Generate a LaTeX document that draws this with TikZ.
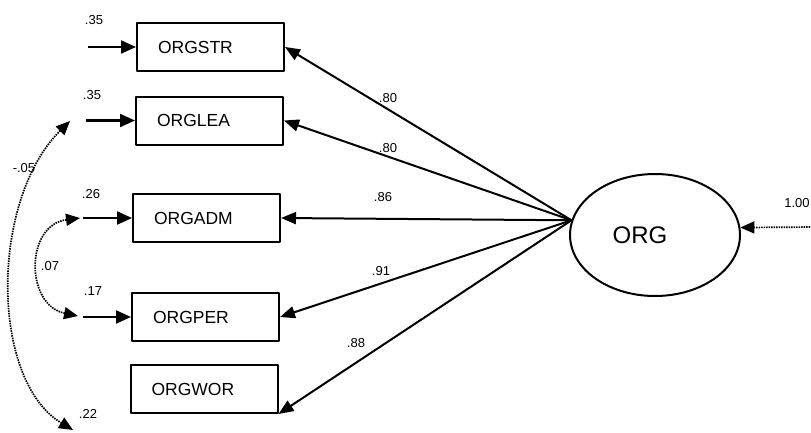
\documentclass[tikz,border=0pt]{standalone}
\usepackage{fontspec}
\setmainfont{Liberation Sans}
\usetikzlibrary{arrows.meta,shapes.geometric}

\tikzset{
  indbox/.style={draw,line width=2pt,minimum height=48pt,text width=105pt,align=left,
    inner xsep=21pt,inner ysep=0pt,font=\fontsize{17.5}{20}\selectfont},
  latent/.style={draw,ellipse,line width=2pt,minimum width=170pt,minimum height=122pt,
    inner sep=0pt,font=\fontsize{24}{28}\selectfont},
  loading/.style={-{Triangle[length=15pt,width=12pt]},line width=2pt},
  errarrow/.style={-{Triangle[length=15pt,width=13pt]},line width=2.2pt},
  covarc/.style={{Triangle[length=14pt,width=12pt]}-{Triangle[length=14pt,width=12pt]},
    line width=1.7pt,dash pattern=on 1.5pt off 1pt},
  distarrow/.style={-{Triangle[length=14pt,width=12pt]},line width=1.7pt,dash pattern=on 1.5pt off 1pt},
  coef/.style={inner sep=0pt,font=\fontsize{13}{15}\selectfont}
}

\begin{document}
\begin{tikzpicture}[x=1pt,y=-1pt,line join=round]
  \useasboundingbox (0,0) rectangle (811,432);
  \clip (0,0) rectangle (811,432);
  \node[indbox] (orgstr) at (210.5,47) {ORGSTR};
  \node[indbox] (orglea) at (209.5,120.5) {ORGLEA};
  \node[indbox] (orgadm) at (206.5,218) {ORGADM};
  \node[indbox] (orgper) at (205.5,317) {ORGPER};
  \node[indbox] (orgwor) at (204,389) {ORGWOR};
  \node[latent] (org) at (655,235) {ORG\hspace*{30pt}};
  \coordinate (e1) at (88,47);
  \coordinate (e2) at (86,120.5);
  \coordinate (e3) at (83,218);
  \coordinate (e4) at (83,317);
  \coordinate (c1) at (70,121);
  \coordinate (c2) at (73,430);
  \coordinate (c3) at (80,218);
  \coordinate (c4) at (78,316);
  \coordinate (dist) at (815,227);
  \draw[errarrow] (e1) -- (orgstr.west);
  \draw[errarrow] (e2) -- (orglea.west);
  \draw[errarrow] (e3) -- (orgadm.west);
  \draw[errarrow] (e4) -- (orgper.west);
  \draw[loading] (org.170) -- (orgstr.east);
  \draw[loading] (org.170) -- (orglea.east);
  \draw[loading] (org.170) -- (orgadm.east);
  \draw[loading] (org.170) -- (orgper.east);
  \draw[loading] (org.170) -- (orgwor.south east);
  \draw[covarc] (c1) .. controls (-10,200) and (-10,380) .. (c2);
  \draw[covarc] (c3) .. controls (25,225) and (25,305) .. (c4);
  \draw[distarrow] (dist) -- (org.5);
  \node[coef] (l1) at (388,98) {.80};
  \node[coef] (l2) at (388,148) {.80};
  \node[coef] (l3) at (383,197) {.86};
  \node[coef] (l4) at (381,271) {.91};
  \node[coef] (l5) at (356,343) {.88};
  \node[coef] (v1) at (94,20) {.35};
  \node[coef] (v2) at (92,95) {.35};
  \node[coef] (v3) at (91,194) {.26};
  \node[coef] (v4) at (93,291) {.17};
  \node[coef] (v5) at (88,414) {.22};
  \node[coef] (k1) at (24,168) {-.05};
  \node[coef] (k2) at (50,266) {.07};
  \node[coef] (d1) at (797,203) {1.00};
\end{tikzpicture}
\end{document}
